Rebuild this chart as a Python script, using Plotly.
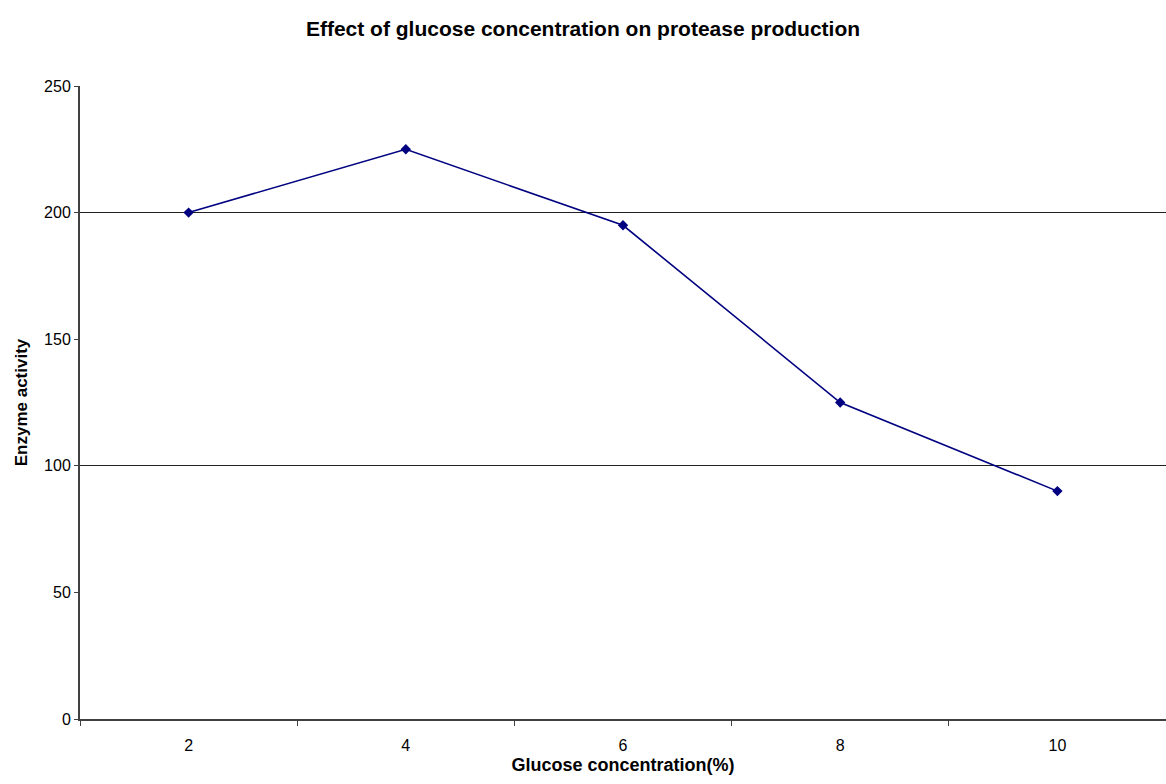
import plotly.graph_objects as go

glucose = ["2", "4", "6", "8", "10"]
activity = [200, 225, 195, 125, 90]
y_ticks = [0, 50, 100, 150, 200, 250]
grid_values = [100, 200, 250]

FONT = "Liberation Sans, Arial, sans-serif"

fig = go.Figure()
fig.add_trace(go.Scatter(
    x=glucose, y=activity, mode="lines+markers",
    line=dict(color="#000080", width=1.6),
    marker=dict(symbol="diamond", size=8, color="#000080"),
    showlegend=False,
))

fig.update_layout(
    width=1166, height=784,
    margin=dict(l=80, r=0, t=86, b=65),
    paper_bgcolor="white", plot_bgcolor="white",
    font=dict(family=FONT, size=12, color="black"),
    title=dict(text="<b>Effect of glucose concentration on protease production</b>",
               x=0.5, xanchor="center", y=1 - 29 / 784, yanchor="middle",
               font=dict(family=FONT, size=21, color="black")),
)
fig.update_xaxes(
    type="category", range=[-0.5, 4.5],
    tickson="boundaries", ticks="outside", ticklen=5, tickcolor="#404040",
    showline=True, linecolor="#404040", linewidth=2,
    showgrid=False, zeroline=False,
    ticklabelstandoff=11,
    tickfont=dict(family=FONT, size=16, color="black"),
    title=dict(text="<b>Glucose concentration(%)</b>", standoff=5,
               font=dict(family=FONT, size=18, color="black")),
)
fig.update_yaxes(
    range=[0, 250], tickvals=y_ticks,
    ticks="outside", ticklen=4, tickcolor="#404040",
    showline=True, linecolor="#404040", linewidth=2,
    showgrid=False, zeroline=False,
    minor=dict(tickvals=grid_values, showgrid=True, gridcolor="#222222", gridwidth=1, ticks=""),
    tickfont=dict(family=FONT, size=16, color="black"),
    title=dict(text="<b>Enzyme activity</b>", standoff=12,
               font=dict(family=FONT, size=17, color="black")),
)

fig.write_html("out.html")
